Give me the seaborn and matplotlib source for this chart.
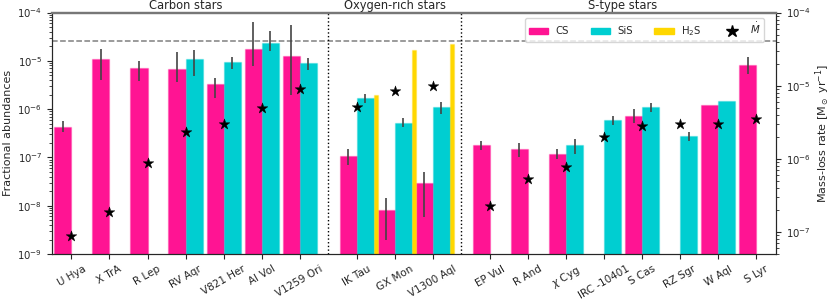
import numpy as np
import pandas as pd
import seaborn as sns
import matplotlib
matplotlib.use("Agg")
import matplotlib.pyplot as plt
from matplotlib.colors import to_rgba
from matplotlib.lines import Line2D
from matplotlib.patches import Patch

nan = np.nan

stars = ["U Hya", "X TrA", "R Lep", "RV Aqr", "V821 Her", "AI Vol", "V1259 Ori",
         "IK Tau", "GX Mon", "V1300 Aql",
         "EP Vul", "R And", r"$\chi$ Cyg", "IRC -10401", "S Cas", "RZ Sgr", "W Aql", "S Lyr"]
groups = ["Carbon stars"] * 7 + ["Oxygen-rich stars"] * 3 + ["S-type stars"] * 8

cs = [4.2e-7, 1.07e-5, 7.2e-6, 6.9e-6, 3.26e-6, 1.75e-5, 1.28e-5,
      1.07e-7, 8.1e-9, 2.9e-8,
      1.78e-7, 1.49e-7, 1.18e-7, nan, 7.3e-7, nan, 1.2e-6, 8.07e-6]
cs_lo = [3.3e-7, 4.0e-6, 3.76e-6, 3.6e-6, 1.67e-6, 7.9e-6, 1.96e-6,
         7.0e-8, 1.95e-9, 5.9e-9,
         1.43e-7, 1.0e-7, 9.1e-8, nan, 5.1e-7, nan, nan, 5.3e-6]
cs_hi = [5.7e-7, 1.75e-5, 1.0e-5, 1.5e-5, 4.4e-6, 6.4e-5, 5.5e-5,
         1.48e-7, 1.42e-8, 5.06e-8,
         2.15e-7, 1.96e-7, 1.5e-7, nan, 9.9e-7, nan, nan, 1.18e-5]

sis = [nan, nan, nan, 1.07e-5, 9.3e-6, 2.37e-5, 8.9e-6,
       1.71e-6, 5.2e-7, 1.09e-6,
       nan, nan, 1.78e-7, 5.95e-7, 1.09e-6, 2.77e-7, 1.49e-6, nan]
sis_lo = [nan, nan, nan, 4.8e-6, 6.7e-6, 1.57e-5, 6.4e-6,
          1.32e-6, 4.2e-7, 8.0e-7,
          nan, nan, 1.2e-7, 4.6e-7, 8.7e-7, 2.2e-7, nan, nan]
sis_hi = [nan, nan, nan, 1.67e-5, 1.18e-5, 4.1e-5, 1.16e-5,
          2.03e-6, 6.45e-7, 1.38e-6,
          nan, nan, 2.43e-7, 7.2e-7, 1.34e-6, 3.36e-7, nan, nan]

h2s = [nan] * 7 + [1.96e-6, 1.7e-5, 2.23e-5] + [nan] * 8

mdot = [8.8e-8, 1.9e-7, 8.7e-7, 2.32e-6, 3.0e-6, 4.95e-6, 9.0e-6,
        5.1e-6, 8.5e-6, 1.0e-5,
        2.27e-7, 5.27e-7, 7.85e-7, 2.02e-6, 2.83e-6, 3.0e-6, 3.0e-6, 3.5e-6]

df = pd.DataFrame({"star": stars, "group": groups, "cs": cs, "cs_lo": cs_lo, "cs_hi": cs_hi,
                   "sis": sis, "sis_lo": sis_lo, "sis_hi": sis_hi, "h2s": h2s, "mdot": mdot})

# x positions: half a slot of extra space between star classes
pos = []
x = 0.0
prev = df["group"][0]
for g in df["group"]:
    if g != prev:
        x += 0.5
        prev = g
    pos.append(x)
    x += 1
df["x"] = pos

sns.set_style("ticks")
plt.rcParams["font.family"] = ["DejaVu Sans"]

c_cs = "#ff1493"
c_sis = "#00ced1"
c_h2s = "#ffd700"
w = 0.45

fig, ax = plt.subplots(figsize=(8.3, 3.05), dpi=100)
fig.subplots_adjust(left=0.0627, right=0.935, top=0.959, bottom=0.167)
ax2 = ax.twinx()

ax.bar(df["x"] - w / 2, df["cs"], width=w, color=c_cs, edgecolor=to_rgba(c_cs, 0.3), linewidth=1, zorder=2)
ax.bar(df["x"] + w / 2, df["sis"], width=w, color=c_sis, edgecolor=to_rgba(c_sis, 0.3), linewidth=1, zorder=2)
ax.bar(df["x"] + w + 0.05, df["h2s"], width=0.1, color=c_h2s, edgecolor=to_rgba(c_h2s, 0.3), linewidth=1, zorder=2)

m = df["cs_lo"].notna()
ax.errorbar(df["x"][m] - w / 2, df["cs"][m],
            yerr=[df["cs"][m] - df["cs_lo"][m], df["cs_hi"][m] - df["cs"][m]],
            fmt="none", ecolor="#444444", elinewidth=1.2, zorder=3)
m = df["sis_lo"].notna()
ax.errorbar(df["x"][m] + w / 2, df["sis"][m],
            yerr=[df["sis"][m] - df["sis_lo"][m], df["sis_hi"][m] - df["sis"][m]],
            fmt="none", ecolor="#444444", elinewidth=1.2, zorder=3)

ax.axhline(2.57e-5, color="grey", ls="--", lw=1.1, zorder=1)
for xs in [6.75, 10.25]:
    ax.axvline(xs, color="black", ls=":", lw=1, zorder=1)

ax.set_yscale("log")
ax.set_ylim(1e-9, 1e-4)
ax.set_xlim(-0.51, 18.52)
ax.set_xticks(df["x"])
ax.set_xticklabels(df["star"], rotation=30, ha="center", fontsize=7.5)
ax.set_xlabel("")
ax.set_ylabel("Fractional abundances", fontsize=8, labelpad=3)
ax.tick_params(axis="y", labelsize=7.3)

sns.scatterplot(x=df["x"], y=df["mdot"], marker="*", s=65, color="black",
                edgecolor="black", linewidth=0.3, ax=ax2, zorder=5)
ax2.set_yscale("log")
ax2.set_ylim(5e-8, 1e-4)
ax2.set_xlabel("")
ax2.set_ylabel(r"Mass-loss rate [M$_\odot$ yr$^{-1}$]", fontsize=8, labelpad=1.5)
ax2.tick_params(axis="y", labelsize=7.3)

for a in (ax, ax2):
    a.spines["top"].set_color("#777777")
    a.spines["top"].set_linewidth(1.6)

for g in ["Carbon stars", "Oxygen-rich stars", "S-type stars"]:
    xc = df["x"][df["group"] == g].mean()
    ax.annotate(g, (xc, 1.0), xycoords=ax.get_xaxis_transform(), xytext=(0, 2.5),
                textcoords="offset points", ha="center", va="baseline", fontsize=8.3)

handles = [Patch(color=c_cs, label="CS"), Patch(color=c_sis, label="SiS"),
           Patch(color=c_h2s, label=r"H$_2$S"),
           Line2D([], [], ls="none", marker="*", ms=9, color="black", label=r"$\dot{M}$")]
ax2.legend(handles=handles, loc="upper right", bbox_to_anchor=(0.99, 1.0), ncol=4, fontsize=7.3,
           borderpad=0.35, handlelength=1.9, handleheight=0.6, columnspacing=2.1, handletextpad=0.75)

fig.savefig("out.png", dpi=100)
